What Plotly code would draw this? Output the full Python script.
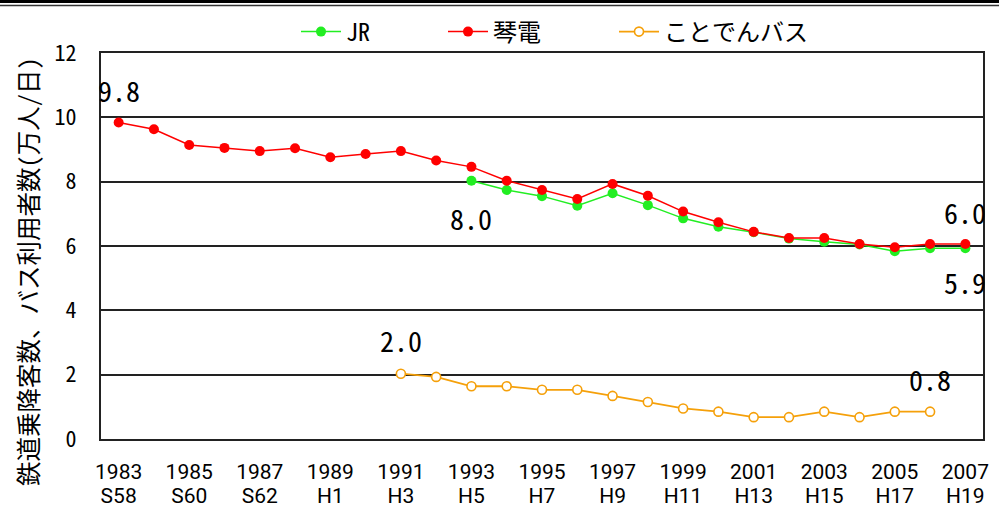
import plotly.graph_objects as go

years_red = list(range(1983, 2008))
kotoden = [9.84, 9.63, 9.14, 9.05, 8.95, 9.04, 8.76, 8.86, 8.95, 8.66, 8.46, 8.03,
           7.74, 7.46, 7.93, 7.56, 7.07, 6.74, 6.44, 6.25, 6.25, 6.06, 5.96, 6.06, 6.06]
years_jr = list(range(1993, 2008))
jr = [8.03, 7.74, 7.55, 7.25, 7.64, 7.27, 6.86, 6.60, 6.43, 6.23, 6.13, 6.05, 5.84, 5.93, 5.93]
years_bus = list(range(1991, 2007))
bus = [2.03, 1.93, 1.64, 1.64, 1.53, 1.53, 1.34, 1.15, 0.95, 0.85, 0.68, 0.68, 0.85, 0.68, 0.85, 0.85]

tick_years = list(range(1983, 2008, 2))
tick_year_text = [str(y) for y in tick_years]
tick_era = ["S58", "S60", "S62", "H1", "H3", "H5", "H7", "H9", "H11", "H13", "H15", "H17", "H19"]

label_text = ["9.8", "8.0", "6.0", "5.9", "2.0", "0.8"]
label_x = [1983, 1993, 2007, 2007, 1991, 2006]
label_y = [10.85, 6.87, 7.06, 4.88, 3.07, 1.88]

FONT = "Noto Sans Mono CJK JP, Noto Sans CJK JP, Liberation Mono"
XFONT = "Roboto, Noto Sans, sans-serif"

fig = go.Figure()
fig.add_trace(go.Scatter(x=years_jr, y=jr, name="JR", mode="lines+markers",
                         line=dict(color="#22ee22", width=1.5),
                         marker=dict(size=10, color="#22ee22"), legend="legend"))
fig.add_trace(go.Scatter(x=years_red, y=kotoden, name="琴電", mode="lines+markers",
                         line=dict(color="#ff0000", width=1.5),
                         marker=dict(size=10, color="#ff0000"), legend="legend2"))
fig.add_trace(go.Scatter(x=years_bus, y=bus, name="ことでんバス", mode="lines+markers",
                         line=dict(color="#f5a00a", width=1.8),
                         marker=dict(size=9, color="white", symbol="circle",
                                     line=dict(color="#f5a00a", width=1.6)),
                         legend="legend3"))
# invisible helper trace to activate the second (era) x axis
fig.add_trace(go.Scatter(x=[years_red[0]], y=[kotoden[0]], xaxis="x2", mode="markers",
                         marker=dict(opacity=0), showlegend=False, hoverinfo="skip"))

for t, x, y in zip(label_text, label_x, label_y):
    fig.add_annotation(x=x, y=y, text=t, showarrow=False,
                       font=dict(family=FONT, size=28, color="black"))

fig.add_annotation(xref="paper", yref="paper", x=-0.084, y=0.435,
                   xanchor="center", yanchor="middle",
                   text="鉄道乗降客数、バス利用者数(万人/日)", textangle=-90,
                   showarrow=False, font=dict(family=FONT, size=24.5, color="black"))

fig.add_shape(type="rect", xref="paper", yref="paper", x0=-0.2, x1=1.1,
              y0=1 + 53 / 386, y1=1 + 50 / 386,
              fillcolor="black", line=dict(width=0), layer="above")
fig.add_shape(type="line", xref="paper", yref="paper", x0=-0.2, x1=1.1,
              y0=1 + 47.5 / 386, y1=1 + 47.5 / 386,
              line=dict(color="#333333", width=1.5), layer="above")

legend_common = dict(orientation="h", yanchor="middle", xanchor="left",
                     bgcolor="rgba(0,0,0,0)",
                     font=dict(family=FONT, size=24, color="black"),
                     itemwidth=40)
fig.update_layout(
    width=999, height=517,
    margin=dict(l=101, r=16, t=53, b=78, autoexpand=False),
    paper_bgcolor="white", plot_bgcolor="white",
    showlegend=True,
    legend=dict(x=(296 - 101) / 882, y=1 + 21 / 386, **legend_common),
    legend2=dict(x=(443 - 101) / 882, y=1 + 21 / 386, **legend_common),
    legend3=dict(x=(614 - 101) / 882, y=1 + 21 / 386, **legend_common),
    xaxis=dict(range=[1982.5, 2007.5], tickvals=tick_years, ticktext=tick_year_text,
               showgrid=False, zeroline=False, showline=True, linecolor="#222",
               linewidth=2, mirror=True, ticks="", ticklabelstandoff=13,
               tickfont=dict(family=XFONT, size=21, color="black")),
    xaxis2=dict(range=[1982.5, 2007.5], overlaying="x", side="bottom", anchor="y",
                tickvals=tick_years, ticktext=tick_era,
                showgrid=False, zeroline=False, showline=False, ticks="",
                ticklabelstandoff=42,
                tickfont=dict(family=XFONT, size=21, color="black")),
    yaxis=dict(range=[0, 12], tickvals=[0, 2, 4, 6, 8, 10, 12],
               showgrid=True, gridcolor="#222", gridwidth=1.5, zeroline=False,
               showline=True, linecolor="#222", linewidth=2, mirror=True,
               ticks="inside", ticklen=6, tickwidth=2, tickcolor="#222",
               ticklabelstandoff=18,
               tickfont=dict(family=FONT, size=22, color="black")),
)

fig.write_html("out.html", config={"displayModeBar": False},
               post_script="document.body.style.margin='0';")
